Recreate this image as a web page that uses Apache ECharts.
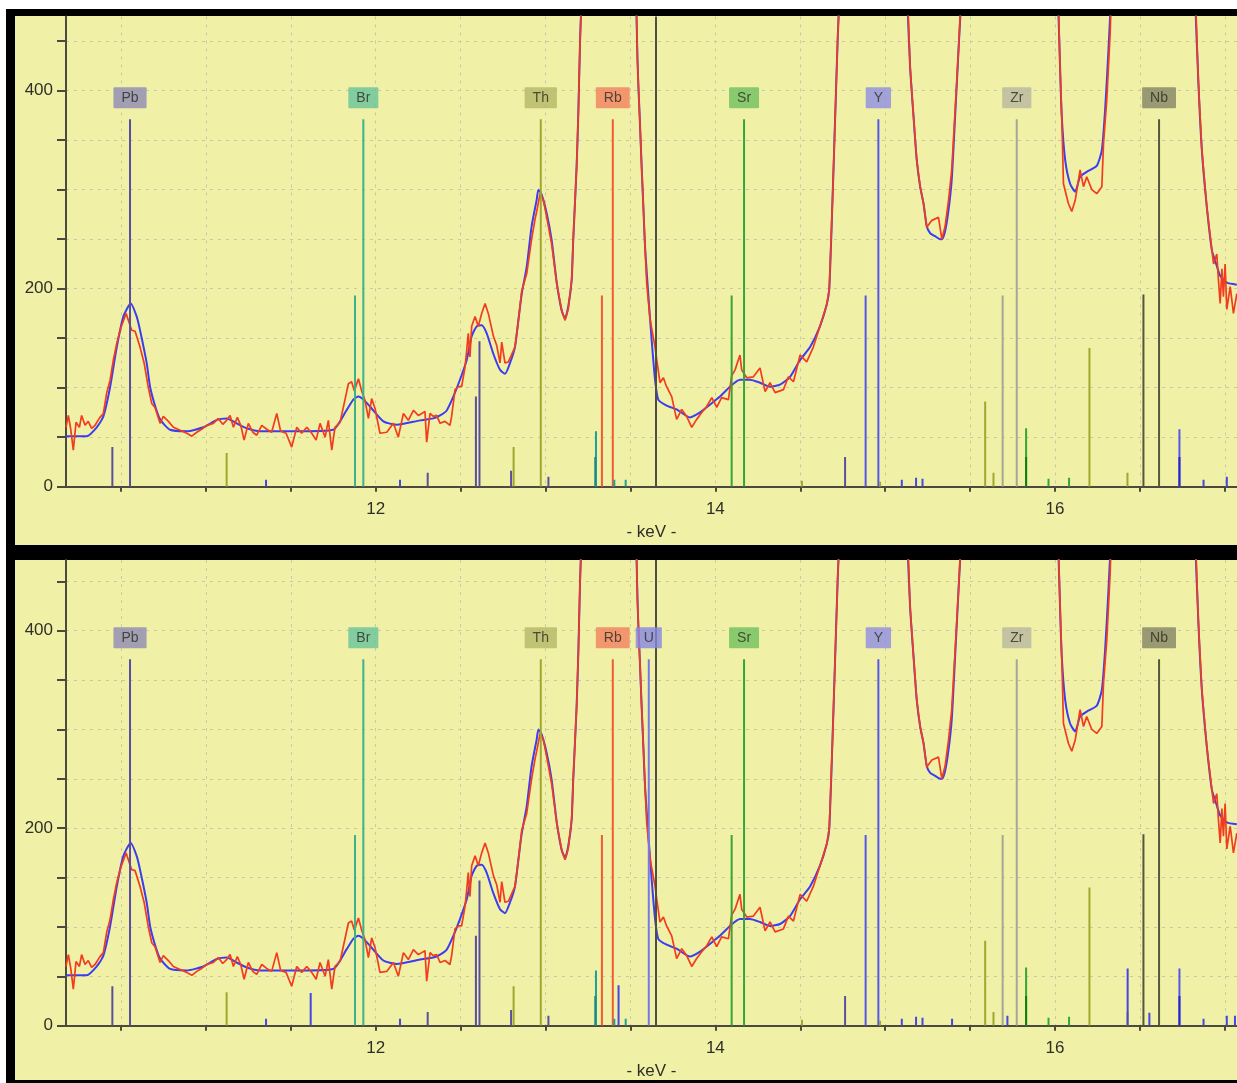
<!DOCTYPE html>
<html>
<head>
<meta charset="utf-8">
<script src="https://cdn.jsdelivr.net/npm/echarts@6/dist/echarts.min.js"></script>
<style>
html,body{margin:0;padding:0;background:#ffffff;width:1237px;height:1083px;overflow:hidden;}
#frame{position:absolute;left:6px;top:9px;width:1231px;height:1074px;background:#000;}
.panel{position:absolute;left:15px;width:1222px;background:#f0f1a6;}
#p1{top:16px;height:529px;}
#p2{top:560px;height:520px;}
#chart{position:absolute;left:0;top:0;width:1237px;height:1083px;}
</style>
</head>
<body>
<div id="frame"></div>
<div class="panel" id="p1"></div>
<div class="panel" id="p2"></div>
<div id="chart"></div>
<script>
// ---------------- DATA ----------------
// measured spectrum (keV, counts) - red
const measured = [
[10.176,60],[10.190,72],[10.204,58],[10.219,37],[10.235,65],[10.255,60],[10.268,72],[10.288,62],[10.307,66],[10.327,59],
[10.347,62],[10.376,70],[10.396,74],[10.416,95],[10.435,107],[10.455,128],[10.475,145],[10.498,160],[10.530,175],[10.549,165],
[10.563,158],[10.583,157],[10.612,141],[10.636,125],[10.661,100],[10.681,84],[10.700,80],[10.730,64],[10.749,71],[10.779,66],
[10.808,60],[10.848,57],[10.887,54],[10.917,51],[10.946,55],[10.975,58],[11.005,62],[11.044,64],[11.073,69],[11.099,63],
[11.122,67],[11.142,72],[11.162,60],[11.185,70],[11.205,62],[11.225,47],[11.250,64],[11.276,55],[11.299,52],[11.329,62],
[11.358,58],[11.387,55],[11.417,74],[11.440,56],[11.472,54],[11.505,40],[11.535,60],[11.564,54],[11.594,60],[11.623,54],
[11.649,47],[11.672,64],[11.702,50],[11.721,67],[11.741,37],[11.760,60],[11.790,65],[11.819,88],[11.839,104],[11.858,106],
[11.874,97],[11.898,109],[11.917,97],[11.937,87],[11.957,69],[11.976,89],[11.996,79],[12.025,54],[12.065,55],[12.104,64],
[12.133,50],[12.163,74],[12.192,67],[12.222,77],[12.251,72],[12.271,74],[12.290,76],[12.300,45],[12.320,74],[12.339,71],
[12.359,72],[12.379,64],[12.408,66],[12.437,62],[12.447,71],[12.467,98],[12.487,101],[12.506,101],[12.526,121],[12.536,138],
[12.545,155],[12.555,131],[12.565,162],[12.585,172],[12.604,162],[12.624,175],[12.644,185],[12.663,175],[12.693,152],[12.712,143],
[12.732,125],[12.742,146],[12.761,125],[12.781,126],[12.820,141],[12.840,168],[12.860,198],[12.889,215],[12.918,250],[12.938,270],
[12.948,278],[12.968,296],[12.977,298],[12.987,290],[13.007,272],[13.036,245],[13.066,205],[13.095,178],[13.115,168],[13.134,180],
[13.154,209],[13.163,249],[13.183,323],[13.193,377],[13.203,448],[13.220,540],[13.300,2000],[13.390,4000],[13.480,2000],[13.530,530],
[13.541,434],[13.547,404],[13.556,367],[13.566,323],[13.576,283],[13.586,242],[13.596,205],[13.615,170],[13.625,160],[13.645,141],
[13.655,128],[13.674,105],[13.694,110],[13.713,101],[13.743,91],[13.772,68],[13.802,78],[13.831,71],[13.861,60],[13.890,68],
[13.920,75],[13.949,81],[13.979,90],[14.008,80],[14.037,90],[14.077,88],[14.096,112],[14.116,118],[14.145,133],[14.155,118],
[14.185,110],[14.224,111],[14.263,120],[14.293,96],[14.322,105],[14.352,95],[14.401,98],[14.430,111],[14.460,106],[14.499,133],
[14.538,126],[14.577,141],[14.616,162],[14.656,184],[14.671,200],[14.690,290],[14.705,370],[14.720,450],[14.740,540],[14.850,2500],
[14.950,4000],[15.050,2500],[15.125,530],[15.147,424],[15.167,374],[15.186,330],[15.206,303],[15.226,286],[15.245,262],[15.275,269],
[15.314,272],[15.334,250],[15.353,263],[15.373,289],[15.392,320],[15.412,380],[15.432,441],[15.460,540],[15.600,2500],[15.780,4000],
[15.950,2500],[16.012,540],[16.030,424],[16.040,374],[16.050,306],[16.079,286],[16.099,278],[16.119,289],[16.148,320],[16.168,303],
[16.187,313],[16.217,300],[16.246,296],[16.276,303],[16.286,347],[16.305,390],[16.325,458],[16.340,540],[16.500,2500],[16.700,3500],
[16.790,2500],[16.820,530],[16.845,407],[16.865,340],[16.894,283],[16.924,239],[16.934,225],[16.953,235],[16.963,208],[16.973,185],
[16.983,220],[16.992,192],[17.002,225],[17.012,179],[17.032,202],[17.051,175],[17.071,195]
];
// fitted spectrum (keV, counts) - blue
const fitted = [
[10.176,51],[10.298,51],[10.357,60],[10.396,71],[10.435,100],[10.475,141],[10.514,172],[10.557,185],[10.592,172],[10.612,158],
[10.651,125],[10.671,101],[10.700,82],[10.730,68],[10.789,57.5],[10.887,56],[10.985,60],[11.064,67.5],[11.122,69],[11.181,64],
[11.240,59],[11.319,56],[11.554,56],[11.750,57.5],[11.829,77.5],[11.868,88],[11.898,91],[11.927,88],[11.966,81],[12.045,66],
[12.123,62.5],[12.261,67],[12.339,69],[12.379,72],[12.418,77],[12.457,91],[12.496,108],[12.536,128],[12.565,152],[12.595,162],
[12.624,163],[12.653,155],[12.693,134],[12.732,118],[12.761,114],[12.791,125],[12.820,141],[12.840,168],[12.860,195],[12.889,222],
[12.918,263],[12.948,290],[12.958,300],[12.977,295],[13.007,276],[13.036,249],[13.066,206],[13.095,178],[13.115,170],[13.134,182],
[13.154,209],[13.163,249],[13.183,323],[13.193,377],[13.203,448],[13.220,540],[13.300,2000],[13.390,4000],[13.480,2000],[13.530,530],
[13.541,434],[13.547,404],[13.556,367],[13.566,323],[13.576,283],[13.586,242],[13.606,192],[13.625,148],[13.645,108],[13.664,88],
[13.713,82],[13.772,78],[13.851,70],[13.910,75],[13.969,83],[14.027,91],[14.086,101],[14.145,108],[14.204,108],[14.263,105],
[14.322,101],[14.381,103],[14.440,111],[14.499,128],[14.558,141],[14.616,162],[14.656,184],[14.671,200],[14.690,290],[14.705,370],
[14.720,450],[14.740,540],[14.850,2500],[14.950,4000],[15.050,2500],[15.125,530],[15.147,424],[15.167,374],[15.186,330],[15.206,303],
[15.226,286],[15.245,263],[15.265,256],[15.294,253],[15.324,250],[15.334,250],[15.353,258],[15.373,279],[15.392,310],[15.412,374],
[15.432,441],[15.460,540],[15.600,2500],[15.780,4000],[15.950,2500],[16.012,540],[16.030,424],[16.040,374],[16.060,330],[16.089,306],
[16.119,298],[16.148,313],[16.187,318],[16.246,324],[16.276,340],[16.295,380],[16.315,441],[16.340,540],[16.500,2500],[16.700,3500],
[16.790,2500],[16.820,530],[16.845,407],[16.865,340],[16.894,283],[16.924,239],[16.953,223],[16.973,213],[17.012,206],[17.071,204]
];
// element emission lines: [keV, intensity, element key]
const sharedLines = [
[10.449,40,'Pb'],[10.553,371,'Pb'],[11.122,34,'Th'],[11.354,7,'Bl'],[11.878,193,'Br'],[11.927,371,'Br'],
[12.143,7,'Bl'],[12.306,14,'Pb'],[12.590,91,'Pb'],[12.611,147,'Pb'],[12.797,16,'Pb'],[12.812,40,'Th'],
[12.972,371,'Th'],[13.017,10,'Pb'],[13.297,56,'BrB'],[13.293,30,'BrD'],[13.332,193,'Rb'],[13.396,371,'Rb'],
[13.405,7,'BrB'],[13.472,7,'BrB'],[14.096,193,'Sr'],[14.169,371,'Sr'],[14.510,6,'Th'],[14.764,30,'Pb'],
[14.885,193,'Y'],[14.960,371,'Y'],[14.970,5,'Th'],[15.098,7,'Bl'],[15.182,9,'Bl'],[15.220,8,'Bl'],
[15.589,86,'Th'],[15.638,14,'Th'],[15.692,193,'Zr'],[15.775,371,'Zr'],[15.830,59,'Sr'],[15.830,30,'SrD'],
[15.962,8,'Sr'],[16.083,9,'Sr'],[16.203,140,'Th'],[16.427,14,'Th'],[16.521,194,'Nb'],[16.613,371,'Nb'],
[16.733,58,'Y'],[16.733,30,'YD'],[16.875,7,'Bl'],[17.012,10,'Bl']
];
const bottomOnlyLines = [
[11.617,33,'Bl'],[13.430,41,'Bl'],[13.608,371,'U'],[15.394,7,'Bl'],[15.720,10,'Bl'],
[16.428,58,'Bl'],[16.556,13,'Bl'],[17.060,10,'Bl']
];
// element tags: [name, keV, line height]
const topTags = [['Pb',10.553,371],['Br',11.927,371],['Th',12.972,371],['Rb',13.396,371],['Sr',14.169,371],['Y',14.960,371],['Zr',15.775,371],['Nb',16.613,371]];
const bottomTags = topTags.concat([['U',13.608,371]]);
const cursorKeV = 13.655;
// axis ticks / labels
const xTickValues = [10.5,11,11.5,12,12.5,13,13.5,14,14.5,15,15.5,16,16.5,17];
const xLabelValues = [12,14,16];
const yTickValues = [0,50,100,150,200,250,300,350,400,450];
const yLabelValues = [0,200,400];
const xMin = 10.176, xMax = 17.072;

// ---------------- STYLE ----------------
const lineColors = {Pb:'#5a4f9e',Br:'#3bb38a',BrB:'#1f9f9c',BrD:'#168a86',Th:'#a3a62e',Rb:'#f25a35',U:'#7878ea',
  Sr:'#36a536',SrD:'#137d13',Y:'#5656ee',YD:'#2626cc',Zr:'#a6a696',Nb:'#56563f',Bl:'#4646e2'};
const tagColors = {Pb:'#8f8bb5',Br:'#68c39c',Th:'#b5b868',Rb:'#f28060',U:'#8686e2',Sr:'#70c060',Y:'#8f8fe6',Zr:'#b8b8a0',Nb:'#858565'};
const FONT = 'Liberation Sans, Arial, sans-serif';
const AX = '#4b4a3c';
const TXT = '#2f2f28';

const chart = echarts.init(document.getElementById('chart'), null, {renderer:'canvas'});

const panels = [
  {top:16.4, height:470.3, ymax:475, lines:sharedLines, tags:topTags},
  {top:560, height:465.7, ymax:471.6, lines:sharedLines.concat(bottomOnlyLines), tags:bottomTags}
];

const grids = [], xAxes = [], yAxes = [], series = [];
panels.forEach((p, i) => {
  grids.push({left:66, top:p.top, width:1171, height:p.height, outerBoundsMode:'none', containLabel:false});
  xAxes.push({
    type:'value', gridIndex:i, min:xMin, max:xMax,
    axisLine:{show:true, onZero:false, lineStyle:{color:AX, width:2}},
    axisTick:{show:true, inside:false, length:5, customValues:xTickValues, lineStyle:{color:AX, width:2}},
    axisLabel:{show:true, customValues:xLabelValues, margin:14, fontSize:17, color:TXT, fontFamily:FONT},
    splitLine:{show:true, lineStyle:{color:'#c8c9a6', type:[3,5], width:1}},
    name:'- keV -', nameLocation:'middle', nameGap:37,
    nameTextStyle:{fontSize:17, color:TXT, fontFamily:FONT}
  });
  yAxes.push({
    type:'value', gridIndex:i, min:0, max:p.ymax, interval:50,
    axisLine:{show:true, lineStyle:{color:AX, width:2}},
    axisTick:{show:true, length:9, customValues:yTickValues, lineStyle:{color:AX, width:2}},
    axisLabel:{show:true, customValues:yLabelValues, margin:13, fontSize:17, color:TXT, fontFamily:FONT},
    splitLine:{show:true, lineStyle:{color:'#c8c9a6', type:[3,5], width:1}}
  });
  series.push({
    type:'line', xAxisIndex:i, yAxisIndex:i, data:fitted, showSymbol:false, smooth:0.2,
    lineStyle:{color:'#3c3cf0', width:2}, clip:true, silent:true, z:2, animation:false
  });
  series.push({
    type:'line', xAxisIndex:i, yAxisIndex:i, data:measured, showSymbol:false,
    lineStyle:{color:'#f23c1e', width:1.7}, clip:true, silent:true, z:3, animation:false
  });
  series.push({
    type:'custom', xAxisIndex:i, yAxisIndex:i, silent:true, z:4, animation:false, clip:true,
    data:p.lines.map(l => ({value:[l[0], l[1]], itemStyle:{color:lineColors[l[2]]}})),
    renderItem:function(params, api){
      const a = api.coord([api.value(0), 0]);
      const b = api.coord([api.value(0), api.value(1)]);
      return {type:'line', shape:{x1:a[0], y1:a[1], x2:b[0], y2:b[1]},
              style:{stroke:api.visual('color'), lineWidth:2}};
    },
    markLine:{silent:true, symbol:'none', animation:false, label:{show:false},
      lineStyle:{color:'#4e4e44', width:2, type:'solid'}, data:[{xAxis:cursorKeV}]}
  });
  series.push({
    type:'scatter', xAxisIndex:i, yAxisIndex:i, silent:true, z:5, animation:false,
    symbolSize:0.1, itemStyle:{color:'rgba(0,0,0,0)'},
    data:p.tags.map(t => ({name:t[0], value:[t[1], t[2]], label:{backgroundColor:tagColors[t[0]]}})),
    label:{show:true, position:'top', distance:11, formatter:'{b}', padding:[4,8,3,8],
      fontSize:14, lineHeight:14, color:'#2a2a24', fontFamily:FONT, borderRadius:1}
  });
});

chart.setOption({
  animation:false,
  backgroundColor:'transparent',
  grid:grids, xAxis:xAxes, yAxis:yAxes, series:series
});
</script>
</body>
</html>
